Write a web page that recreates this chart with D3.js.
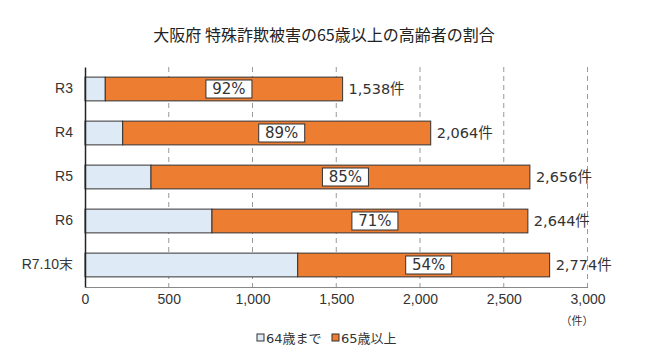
<!DOCTYPE html>
<html><head><meta charset="utf-8">
<script src="https://cdn.jsdelivr.net/npm/d3@7"></script>
<style>body{margin:0;background:#fff;}svg{display:block;font-family:"DejaVu Sans","Noto Sans CJK JP",sans-serif;}</style>
</head><body><svg id="c" width="650" height="360"></svg>
<script>
const categories = ["R3","R4","R5","R6","R7.10末"];
const under64 = [121, 225, 394, 758, 1270];
const over65 = [1417, 1839, 2262, 1886, 1504];
const totals = [1538, 2064, 2656, 2644, 2774];
const pctLabels = ["92%","89%","85%","71%","54%"];
const xTicks = [0,500,1000,1500,2000,2500,3000];
const seriesNames = ["64歳まで","65歳以上"];
const colors = ["#deeaf6","#ed7d31"];

const svg = d3.select("#c");
const x = d3.scaleLinear().domain([0,3000]).range([85,587.5]);
const y = d3.scaleBand().domain(categories).range([67,287]).paddingInner(0.46).paddingOuter(0.23);

svg.append("text").attr("x",324).attr("y",41).attr("text-anchor","middle")
  .attr("font-size",16).attr("fill","#222").attr("font-family","Noto Sans CJK JP").text("大阪府 特殊詐欺被害の65歳以上の高齢者の割合");

// gridlines
svg.append("g").selectAll("line").data(xTicks.slice(1)).join("line")
  .attr("x1",d=>x(d)).attr("x2",d=>x(d)).attr("y1",67).attr("y2",287)
  .attr("stroke","#999").attr("stroke-dasharray","5,4").attr("stroke-width",1);

// x axis
const xa = svg.append("g").attr("transform","translate(0,287)")
  .call(d3.axisBottom(x).tickValues(xTicks).tickFormat(d3.format(",")).tickSize(0).tickPadding(7));
xa.select(".domain").attr("stroke","#888").attr("stroke-width",1.2);
xa.selectAll("text").attr("font-size",14).attr("fill","#333").attr("font-family","inherit");
svg.append("text").attr("x",577).attr("y",325).attr("text-anchor","middle").attr("font-size",11).attr("fill","#333").text("（件）");

// bars
const stackData = categories.map((c,i)=>({c, a:under64[i], b:over65[i], t:totals[i], p:pctLabels[i]}));
const g = svg.append("g");
g.selectAll("rect.a").data(stackData).join("rect").attr("class","a")
  .attr("x",x(0)).attr("y",d=>y(d.c)).attr("width",d=>x(d.a)-x(0)).attr("height",y.bandwidth())
  .attr("fill",colors[0]).attr("stroke","#333").attr("stroke-width",1);
g.selectAll("rect.b").data(stackData).join("rect").attr("class","b")
  .attr("x",d=>x(d.a)).attr("y",d=>y(d.c)).attr("width",d=>x(d.a+d.b)-x(d.a)).attr("height",y.bandwidth())
  .attr("fill",colors[1]).attr("stroke","#333").attr("stroke-width",1);

// y axis
const ya = svg.append("g").attr("transform","translate(85,0)")
  .call(d3.axisLeft(y).tickSize(0).tickPadding(12));
ya.select(".domain").attr("stroke","#222").attr("stroke-width",1.5);
ya.selectAll("text").attr("font-size",14).attr("fill","#333").attr("font-family","inherit");

// pct labels
const pl = g.selectAll("g.pl").data(stackData).join("g").attr("class","pl")
  .attr("transform",d=>`translate(${(x(d.a)+x(d.a+d.b))/2+5},${y(d.c)+y.bandwidth()/2})`);
pl.append("rect").attr("x",-23).attr("y",-9).attr("width",46).attr("height",18)
  .attr("fill","#fff").attr("stroke","#333").attr("stroke-width",1);
pl.append("text").attr("text-anchor","middle").attr("dy","0.36em").attr("font-size",15).attr("fill","#333").text(d=>d.p);

// totals
g.selectAll("text.t").data(stackData).join("text").attr("class","t")
  .attr("x",d=>x(d.t)+6).attr("y",d=>y(d.c)+y.bandwidth()/2).attr("dy","0.36em")
  .attr("font-size",14.5).attr("fill","#333").text(d=>d3.format(",")(d.t)+"件");

// legend
const lg = svg.append("g").attr("transform","translate(0,338)");
const lx = [257, 332];
seriesNames.forEach((n,i)=>{
  lg.append("rect").attr("x",lx[i]).attr("y",-4).attr("width",7).attr("height",7)
    .attr("fill",colors[i]).attr("stroke","#333").attr("stroke-width",1);
  lg.append("text").attr("x",lx[i]+9).attr("y",0).attr("dy","0.36em").attr("font-size",13).attr("fill","#333").text(n);
});
</script></body></html>
